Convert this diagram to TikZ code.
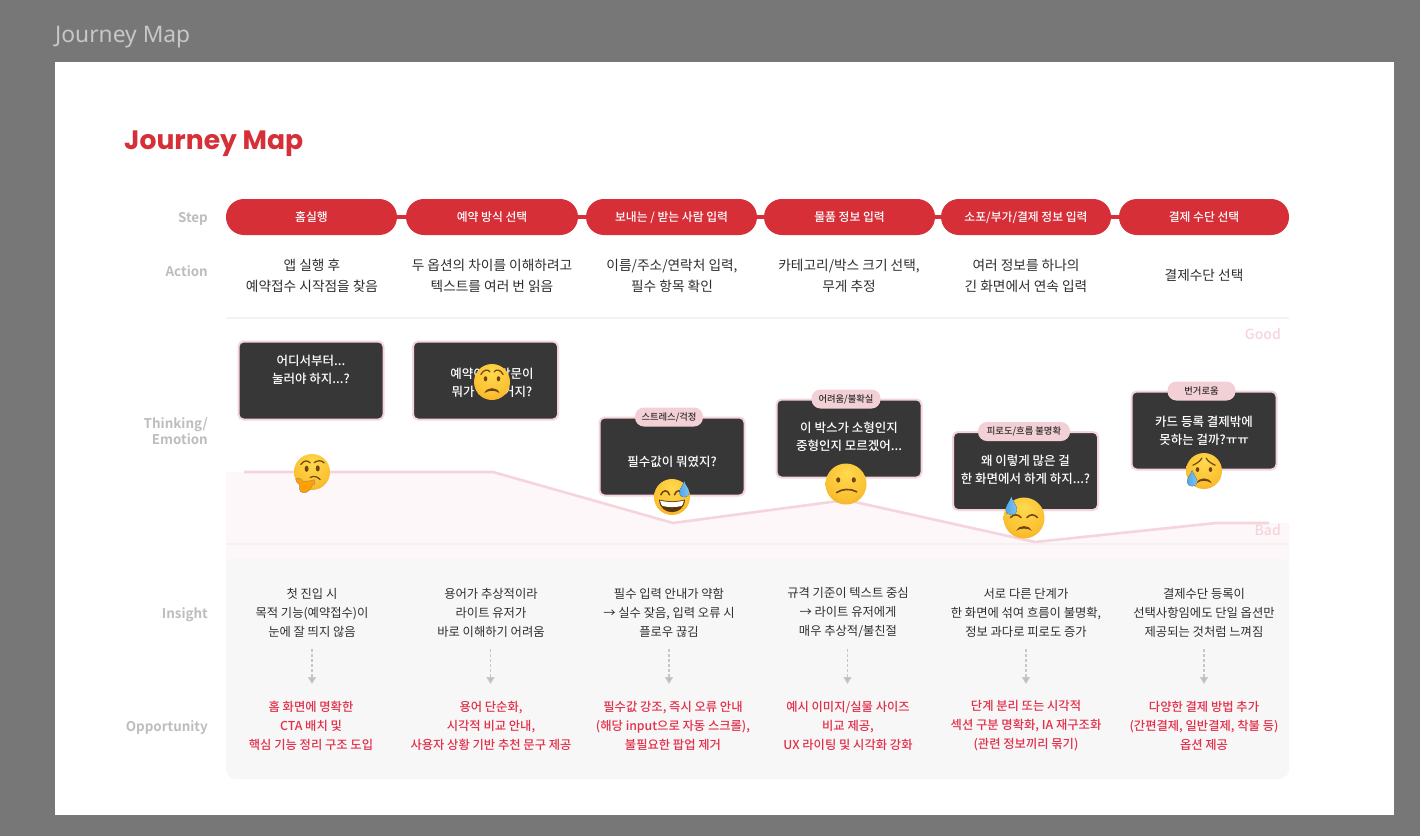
\documentclass[tikz,border=0pt]{standalone}
\usepackage{fontspec}
\setmainfont{Noto Sans CJK KR}
\newfontfamily\krm{Noto Sans CJK KR}[UprightFont={* Medium}]
\newfontfamily\krb{Noto Sans CJK KR}[UprightFont={* Bold}]
\newfontfamily\titlefont{Poppins}[UprightFont={* Bold}]
\newfontfamily\headfont{Noto Sans}
\usetikzlibrary{arrows.meta,positioning}
\definecolor{bgray}{HTML}{777777}
\definecolor{jred}{HTML}{D62F38}
\definecolor{oppred}{HTML}{E2304A}
\definecolor{lbl}{HTML}{BDBDBD}
\definecolor{pinkl}{HTML}{F5D5DB}
\definecolor{tagpink}{HTML}{F3D0D6}
\definecolor{carddark}{HTML}{373737}
\definecolor{txt}{HTML}{2E2E2E}
\definecolor{panel}{HTML}{F8F7F7}
\definecolor{areap}{HTML}{FDF7F9}
\definecolor{divl}{HTML}{F3F1F1}
\definecolor{eb}{HTML}{6F4312}
\definecolor{dropb}{HTML}{4FA8E8}
\definecolor{eA}{HTML}{FFD94E}
\definecolor{eB}{HTML}{FBC232}
\definecolor{eC}{HTML}{F0A01E}
\definecolor{eD}{HTML}{D0800E}
\pgfdeclareradialshading{facesh}{\pgfpoint{0bp}{14bp}}{color(0bp)=(eA);color(25bp)=(eB);color(45bp)=(eC);color(64bp)=(eD)}
\tikzset{
 stepbox/.style={draw=none,fill=jred,rounded corners=17.9pt,minimum height=36pt,text=white,font=\krm\fontsize{11.8}{14}\selectfont,inner sep=0pt,text height=9.5pt,text depth=1pt},
 linkline/.style={draw=jred,line width=4pt},
 actiontext/.style={align=center,text=txt,font=\fontsize{13.7}{21}\selectfont,inner sep=0pt},
 insight/.style={align=center,text=txt,font=\fontsize{12.3}{19}\selectfont,inner sep=0pt},
 opp/.style={align=center,text=oppred,font=\krm\fontsize{12.3}{19}\selectfont,inner sep=0pt},
 rowlabel/.style={anchor=east,align=right,text=lbl,font=\krb\fontsize{13.4}{16}\selectfont,inner sep=0pt},
 card/.style={draw=pinkl,line width=2pt,fill=carddark,rounded corners=5pt,minimum width=145pt,minimum height=78pt,inner sep=0pt},
 cardtext/.style={align=center,text=white,font=\krm\fontsize{12.5}{18}\selectfont,inner sep=0pt},
 tagbox/.style={fill=tagpink,rounded corners=9pt,minimum height=19pt,text=txt,font=\krm\fontsize{9.3}{11}\selectfont,inner sep=0pt},
 scale label/.style={anchor=east,text=pinkl,font=\krm\fontsize{14}{16}\selectfont,inner sep=0pt},
 journey/.style={draw=pinkl,line width=2.6pt,line join=round},
 flow/.style={draw=lbl!85,line width=1.2pt,dash pattern=on 3pt off 2pt,-{Triangle[width=8pt,length=7pt,fill=lbl]}},
 feat/.style={draw=eb,line width=1.2pt,line cap=round,fill=none},
}
\newcommand{\facebase}{\shade[shading=facesh] (0,0) circle (1);}
\newcommand{\dropat}[2]{\begin{scope}[shift={(#1,#2)}]
 \fill[left color=dropb,right color=dropb!70!white] (0,0.42) .. controls (0.06,0.2) and (0.27,0.02) .. (0.27,-0.2) .. controls (0.27,-0.38) and (0.14,-0.47) .. (0,-0.47) .. controls (-0.14,-0.47) and (-0.27,-0.38) .. (-0.27,-0.2) .. controls (-0.27,0.02) and (-0.06,0.2) .. (0,0.42) -- cycle;
 \end{scope}}
\begin{document}
\begin{tikzpicture}[x=1pt,y=-1pt]
\useasboundingbox (0,0) rectangle (1420,836);
\fill[bgray] (0,0) rectangle (1420,836);
\fill[white] (55,62) rectangle (1394,815);
\node (pagename) [anchor=west,inner sep=0pt,text=white!78!black,font=\headfont\fontsize{22.8}{26}\selectfont] at (55,37.5) {Journey Map};
\node (title) [anchor=west,inner sep=0pt,text=jred,font=\titlefont\fontsize{26.6}{32}\selectfont] at (124,144) {Journey Map};

% row labels
\node (lstep) [rowlabel] at (208,219) {Step};
\node (laction) [rowlabel] at (208,271) {Action};
\node (lthink) [rowlabel] at (208,431) {Thinking/\\Emotion};
\node (linsight) [rowlabel] at (208,615) {Insight};
\node (lopp) [rowlabel] at (208,728) {Opportunity};

% steps
\node (s1) [stepbox,minimum width=171pt] at (311.5,217) {홈실행};
\node (s2) [stepbox,minimum width=172pt] at (492,217) {예약 방식 선택};
\node (s3) [stepbox,minimum width=171pt] at (671.5,217) {보내는 / 받는 사람 입력};
\node (s4) [stepbox,minimum width=171pt] at (849.5,217) {물품 정보 입력};
\node (s5) [stepbox,minimum width=170pt] at (1026,217) {소포/부가/결제 정보 입력};
\node (s6) [stepbox,minimum width=170pt] at (1204,217) {결제 수단 선택};
\draw[linkline] (s1) -- (s2);
\draw[linkline] (s2) -- (s3);
\draw[linkline] (s3) -- (s4);
\draw[linkline] (s4) -- (s5);
\draw[linkline] (s5) -- (s6);

% actions
\node (a1) [actiontext] at (312,276) {앱 실행 후\\예약접수 시작점을 찾음};
\node (a2) [actiontext] at (492,276) {두 옵션의 차이를 이해하려고\\텍스트를 여러 번 읽음};
\node (a3) [actiontext] at (672,276) {이름/주소/연락처 입력,\\필수 항목 확인};
\node (a4) [actiontext] at (849,276) {카테고리/박스 크기 선택,\\무게 추정};
\node (a5) [actiontext] at (1026,276) {여러 정보를 하나의\\긴 화면에서 연속 입력};
\node (a6) [actiontext] at (1204,275) {결제수단 선택};
\draw[draw=divl,line width=2pt] (226,318) -- (1289,318);

% emotion band
\coordinate (c0) at (244,472);
\coordinate (c1) at (493,472);
\coordinate (c2) at (673,523);
\coordinate (c3) at (846,500);
\coordinate (c4) at (1035,542);
\coordinate (c5) at (1216,523);
\coordinate (c6) at (1269,523);
\fill[areap] (226,472) -- (c1) -- (c2) -- (c3) -- (c4) -- (c5) -- (1289,523) -- (1289,570) -- (226,570) -- cycle;
\draw[divl,line width=2pt] (226,544) -- (1289,544);
\fill[panel,rounded corners=10pt] (226,558) rectangle (1289,779);
\draw[journey] (c0) -- (c1) -- (c2) -- (c3) -- (c4) -- (c5) -- (c6);
\node (good) [scale label] at (1281,334) {Good};
\node (bad) [scale label] at (1281,530) {Bad};

% cards
\node (k1) [card] at (311,380.5) {};
\node (k2) [card] at (485.5,380.5) {};
\node (k3) [card] at (672,456.5) {};
\node (k4) [card] at (849,438.5) {};
\node (k5) [card] at (1025.5,471) {};
\node (k6) [card] at (1204,430.5) {};
\node (kt1) [cardtext] at (311,370) {어디서부터...\\눌러야 하지...?};
\node (kt2) [cardtext] at (492,383) {예약이랑 방문이\\뭐가 다른 거지?};
\node (kt3) [cardtext] at (672,462) {필수값이 뭐였지?};
\node (kt4) [cardtext] at (849,437) {이 박스가 소형인지\\중형인지 모르겠어...};
\node (kt5) [cardtext] at (1025.5,470) {왜 이렇게 많은 걸\\한 화면에서 하게 하지...?};
\node (kt6) [cardtext] at (1204,431) {카드 등록 결제밖에\\못하는 걸까?ㅠㅠ};
\node (g3) [tagbox,minimum width=68pt] at (669,417) {스트레스/걱정};
\node (g4) [tagbox,minimum width=69pt] at (846,399) {어려움/불확실};
\node (g5) [tagbox,minimum width=92pt] at (1024,431.5) {피로도/흐름 불명확};
\node (g6) [tagbox,minimum width=68pt] at (1201.5,391) {번거로움};

% insights
\node (i1) [insight] at (312,613) {첫 진입 시\\목적 기능(예약접수)이\\눈에 잘 띄지 않음};
\node (i2) [insight] at (491,613) {용어가 추상적이라\\라이트 유저가\\바로 이해하기 어려움};
\node (i3) [insight] at (669,613) {필수 입력 안내가 약함\\→ 실수 잦음, 입력 오류 시\\플로우 끊김};
\node (i4) [insight] at (848,613) {규격 기준이 텍스트 중심\\→ 라이트 유저에게\\매우 추상적/불친절};
\node (i5) [insight] at (1026,613) {서로 다른 단계가\\한 화면에 섞여 흐름이 불명확,\\정보 과다로 피로도 증가};
\node (i6) [insight] at (1204,613) {결제수단 등록이\\선택사항임에도 단일 옵션만\\제공되는 것처럼 느껴짐};
\node (o1) [opp] at (311,726) {홈 화면에 명확한\\CTA 배치 및\\핵심 기능 정리 구조 도입};
\node (o2) [opp] at (491,726) {용어 단순화,\\시각적 비교 안내,\\사용자 상황 기반 추천 문구 제공};
\node (o3) [opp] at (673,726) {필수값 강조, 즉시 오류 안내\\(해당 input으로 자동 스크롤),\\불필요한 팝업 제거};
\node (o4) [opp] at (848,726) {예시 이미지/실물 사이즈\\비교 제공,\\UX 라이팅 및 시각화 강화};
\node (o5) [opp] at (1026,726) {단계 분리 또는 시각적\\섹션 구분 명확화, IA 재구조화\\(관련 정보끼리 묶기)};
\node (o6) [opp] at (1204,726) {다양한 결제 방법 추가\\(간편결제, 일반결제, 착불 등)\\옵션 제공};
\foreach \n/\x in {1/312,2/490.5,3/669,4/847.5,5/1026,6/1204}{
 \coordinate (fa\n) at (\x,649);
 \coordinate (fb\n) at (\x,684);
 \draw[flow] (fa\n) -- (fb\n);
}

% emoji: thinking
\begin{scope}[shift={(312,472)},x=18pt,y=18pt]
 \facebase
 \draw[feat] (-0.62,0.42) .. controls (-0.45,0.68) and (-0.2,0.65) .. (-0.1,0.5);
 \draw[feat] (0.12,0.52) .. controls (0.3,0.66) and (0.55,0.66) .. (0.68,0.5);
 \fill[eb] (-0.3,0.18) ellipse (0.11 and 0.17);
 \fill[eb] (0.32,0.2) ellipse (0.11 and 0.17);
 \draw[feat] (-0.1,-0.3) .. controls (0.1,-0.2) and (0.3,-0.25) .. (0.45,-0.42);
 \filldraw[draw=eb!60,line width=.5pt,fill=orange!75!yellow] (-0.9,-0.4) .. controls (-0.75,-0.25) and (-0.6,-0.4) .. (-0.48,-0.55) .. controls (-0.3,-0.5) and (0,-0.5) .. (0.12,-0.42) .. controls (0.2,-0.5) and (0.2,-0.72) .. (0,-0.75) .. controls (-0.05,-0.95) and (-0.25,-1.18) .. (-0.5,-1.15) .. controls (-0.7,-1.12) and (-0.72,-0.9) .. (-0.7,-0.7) .. controls (-0.8,-0.6) and (-0.95,-0.5) .. (-0.9,-0.4) -- cycle;
\end{scope}
% emoji: worried
\begin{scope}[shift={(492,382)},x=18pt,y=18pt]
 \facebase
 \draw[feat] (-0.62,0.42) .. controls (-0.45,0.72) and (-0.2,0.72) .. (-0.12,0.56);
 \draw[feat] (0.62,0.42) .. controls (0.45,0.72) and (0.2,0.72) .. (0.12,0.56);
 \fill[eb] (-0.36,0.18) ellipse (0.1 and 0.14);
 \fill[eb] (0.36,0.18) ellipse (0.1 and 0.14);
 \fill[eb] (-0.42,-0.62) .. controls (-0.3,-0.25) and (0.3,-0.25) .. (0.42,-0.62) .. controls (0.2,-0.44) and (-0.2,-0.44) .. (-0.42,-0.62) -- cycle;
\end{scope}
% emoji: grinning sweat
\begin{scope}[shift={(672,497)},x=18pt,y=18pt]
 \facebase
 \draw[feat,line width=1.5pt] (-0.62,0.12) .. controls (-0.52,0.42) and (-0.22,0.42) .. (-0.14,0.12);
 \draw[feat,line width=1.5pt] (0.14,0.12) .. controls (0.22,0.42) and (0.52,0.42) .. (0.62,0.12);
 \fill[eb!80!black] (-0.72,-0.14) .. controls (-0.3,-0.26) and (0.3,-0.26) .. (0.72,-0.14) .. controls (0.7,-0.62) and (0.35,-0.84) .. (0,-0.84) .. controls (-0.35,-0.84) and (-0.7,-0.62) .. (-0.72,-0.14) -- cycle;
 \fill[white] (-0.66,-0.2) .. controls (-0.3,-0.3) and (0.3,-0.3) .. (0.66,-0.2) .. controls (0.64,-0.36) and (0.58,-0.46) .. (0.52,-0.5) .. controls (0.2,-0.58) and (-0.2,-0.58) .. (-0.52,-0.5) .. controls (-0.58,-0.46) and (-0.64,-0.36) .. (-0.66,-0.2) -- cycle;
 \dropat{0.68}{0.46}
\end{scope}
% emoji: confused
\begin{scope}[shift={(846,484)},x=20.5pt,y=20.5pt]
 \facebase
 \fill[eb] (-0.38,0.2) ellipse (0.1 and 0.13);
 \fill[eb] (0.38,0.2) ellipse (0.1 and 0.13);
 \draw[feat,line width=1.6pt] (-0.46,-0.42) .. controls (-0.2,-0.24) and (0.2,-0.2) .. (0.52,-0.38);
\end{scope}
% emoji: downcast sweat
\begin{scope}[shift={(1024,518)},x=20.5pt,y=20.5pt]
 \facebase
 \draw[feat,line width=1.5pt] (-0.66,0.02) .. controls (-0.5,0.2) and (-0.3,0.2) .. (-0.14,0.02);
 \draw[feat,line width=1.5pt] (0.14,0.02) .. controls (0.3,0.2) and (0.5,0.2) .. (0.66,0.02);
 \fill[eb] (-0.38,-0.62) .. controls (-0.26,-0.32) and (0.26,-0.32) .. (0.38,-0.62) .. controls (0.18,-0.48) and (-0.18,-0.48) .. (-0.38,-0.62) -- cycle;
 \dropat{-0.62}{0.62}
\end{scope}
% emoji: sad relieved
\begin{scope}[shift={(1204,471)},x=18pt,y=18pt]
 \facebase
 \draw[feat] (-0.62,0.32) .. controls (-0.4,0.42) and (-0.2,0.55) .. (-0.12,0.72);
 \draw[feat] (0.62,0.32) .. controls (0.4,0.42) and (0.2,0.55) .. (0.12,0.72);
 \fill[eb] (-0.36,0.08) ellipse (0.1 and 0.13);
 \fill[eb] (0.36,0.08) ellipse (0.1 and 0.13);
 \fill[eb] (-0.42,-0.68) .. controls (-0.3,-0.32) and (0.3,-0.32) .. (0.42,-0.68) .. controls (0.2,-0.5) and (-0.2,-0.5) .. (-0.42,-0.68) -- cycle;
 \dropat{-0.66}{-0.38}
\end{scope}
\end{tikzpicture}
\end{document}
